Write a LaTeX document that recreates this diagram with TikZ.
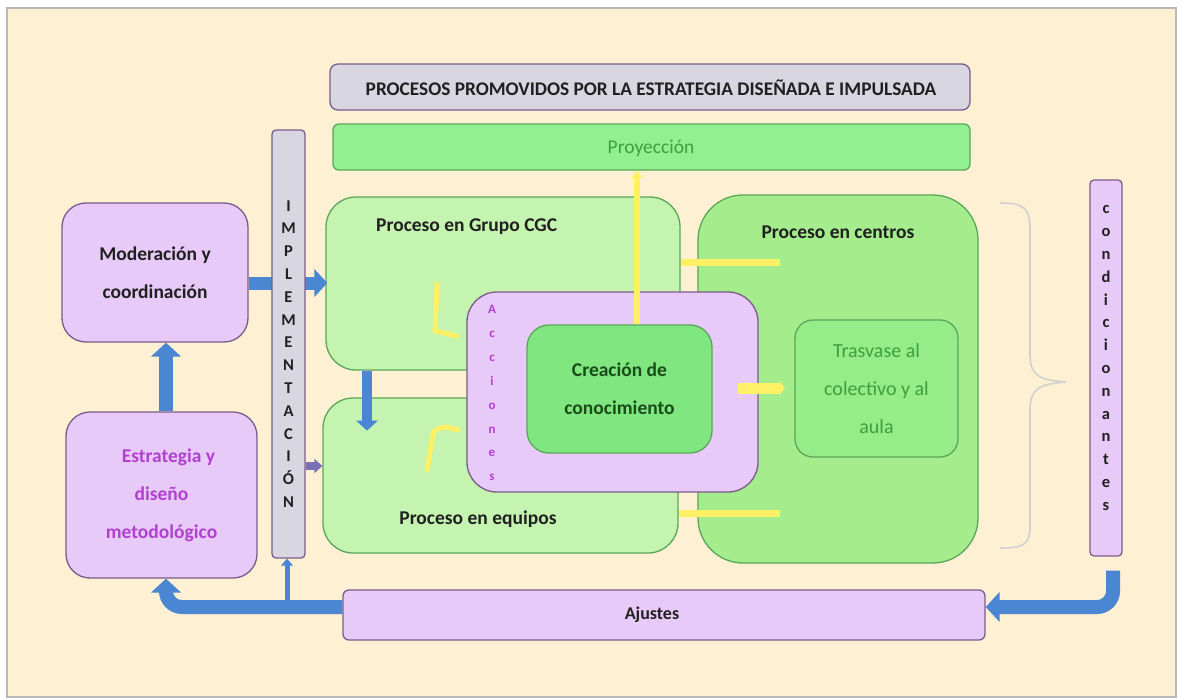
\documentclass[tikz,border=0pt]{standalone}
\usepackage{fontspec}
\setmainfont{Carlito}
\usetikzlibrary{arrows.meta}
\definecolor{cream}{HTML}{FEF0D2}
\definecolor{frameg}{HTML}{B8B8B8}
\definecolor{lav}{HTML}{E8CAF8}
\definecolor{lavb}{HTML}{7A5C8C}
\definecolor{titleg}{HTML}{D8D6E0}
\definecolor{proyg}{HTML}{92F090}
\definecolor{greenb}{HTML}{5AA65A}
\definecolor{grupog}{HTML}{C4F4B0}
\definecolor{centrog}{HTML}{A4EC8C}
\definecolor{creag}{HTML}{80E680}
\definecolor{trasg}{HTML}{96EC88}
\definecolor{bluea}{HTML}{4A86D2}
\definecolor{purpa}{HTML}{7A70B8}
\definecolor{yel}{HTML}{FFF066}
\definecolor{txtpurple}{HTML}{B040D0}
\definecolor{txtgreen}{HTML}{3CA03C}
\definecolor{txtdark}{HTML}{202020}
\tikzset{
  box/.style={draw=lavb, line width=1.3pt, fill=lav, inner sep=0pt},
  gbox/.style={draw=greenb, line width=1.3pt, inner sep=0pt},
  lbl/.style={font=\fontsize{19.5}{38}\selectfont\bfseries, text=txtdark, align=center, inner sep=0pt},
  vlet/.style={font=\fontsize{16.5}{22.8}\selectfont\bfseries, align=center, inner sep=0pt},
  bluearrow/.style={draw=bluea, line width=#1, -{Triangle[width=2.1*#1, length=1.0*#1]}},
  yline/.style={draw=yel, line width=7pt},
}
\begin{document}
\begin{tikzpicture}[x=1pt,y=-1pt]
\useasboundingbox (0,0) rectangle (1185,699);
\fill[white] (0,0) rectangle (1185,699);
\fill[cream, draw=frameg, line width=1.2pt] (7,8) rectangle (1176,697);

% Title and projection
\node[box, fill=titleg, rounded corners=8pt, minimum width=640pt, minimum height=46pt] (title) at (650,87) {};
\node[font=\fontsize{19.3}{22}\selectfont\bfseries, text=txtdark] (titletxt) at (651,88) {PROCESOS PROMOVIDOS POR LA ESTRATEGIA DISEÑADA E IMPULSADA};
\node[gbox, fill=proyg, rounded corners=6pt, minimum width=637pt, minimum height=46pt] (proy) at (651.5,147) {};
\node[font=\fontsize{19.5}{22}\selectfont, text=txtgreen] (proytxt) at (651,148) {Proyección};

% Left boxes
\node[box, rounded corners=24pt, minimum width=186pt, minimum height=139pt, lbl] (mod) at (155,272.5) {Moderación y\\coordinación};
\node[box, rounded corners=24pt, minimum width=191pt, minimum height=166pt, lbl, text=txtpurple] (estr) at (161.5,495) {\hspace*{14pt}Estrategia y\\diseño\\metodológico};

% Process boxes
\node[gbox, fill=grupog, rounded corners=30pt, minimum width=354pt, minimum height=173pt] (grupo) at (503,283.5) {};
\node[lbl, anchor=west] (grupotxt) at (376,227) {Proceso en Grupo CGC};
\node[gbox, fill=grupog, rounded corners=30pt, minimum width=355pt, minimum height=155pt] (equipos) at (500.5,475.5) {};
\node[lbl] (equipostxt) at (478,519) {Proceso en equipos};
\node[gbox, fill=centrog, rounded corners=45pt, minimum width=280pt, minimum height=368pt] (centros) at (838,379) {};
\node[lbl] (centrostxt) at (838,232) {Proceso en centros};

% Yellow connectors between Grupo / equipos and centros
\coordinate (y1) at (780,262);
\coordinate (y2) at (780,513);
\draw[yline] (grupo.east |- y1) -- (y1);
\draw[yline] (equipos.east |- y2) -- (y2);

% Acciones and creation
\node[box, rounded corners=30pt, minimum width=291pt, minimum height=200pt] (acc) at (612.5,392) {};
\node[vlet, text=txtpurple, font=\fontsize{13}{23.9}\selectfont\bfseries] (acctxt) at (492,393) {A\\c\\c\\i\\o\\n\\e\\s};
\node[gbox, fill=creag, rounded corners=22pt, minimum width=185pt, minimum height=128pt, lbl, text=txtdark!80!green] (crea) at (619.5,389) {Creación de\\conocimiento};
\node[gbox, fill=trasg, rounded corners=18pt, minimum width=163pt, minimum height=137pt, lbl, font=\fontsize{20}{38}\selectfont, text=txtgreen] (tras) at (876.5,388.5) {Trasvase al\\colectivo y al\\aula};

% Yellow arrows
\coordinate (yx) at (637,0);
\draw[draw=yel, line width=6pt, -{Triangle[width=11pt,length=7pt]}] (crea.north -| yx) -- (proy.south -| yx);
\coordinate (y3a) at (738,388);
\coordinate (y3b) at (785,388);
\draw[draw=yel, line width=11pt, -{Triangle[width=14pt,length=6pt]}] (y3a) -- (y3b);
\draw[draw=yel, line width=5pt, line cap=round, line join=round] (437,284) -- (435,331) -- (457,336);
\draw[draw=yel, line width=5pt, line cap=round, line join=round] (427,470) -- (433,434) .. controls (436,426) and (446,426) .. (458,430);

% Blue arrows
\coordinate (ma) at (0,283);
\draw[bluearrow=13pt] (mod.east |- ma) -- ([xshift=2pt]grupo.west |- ma);
\coordinate (ex) at (166,0);
\draw[bluearrow=14pt] (estr.north -| ex) -- (mod.south -| ex);
\coordinate (gx) at (367,0);
\draw[bluearrow=10pt] (grupo.south -| gx) -- ++(0,60);

% Implementation bar
\node[box, fill=titleg, rounded corners=4pt, minimum width=33pt, minimum height=428pt] (impl) at (288.5,344) {};
\node[vlet, text=txtdark] (impltxt) at (288.5,354) {I\\M\\P\\L\\E\\M\\E\\N\\T\\A\\C\\I\\Ó\\N};
\coordinate (pa) at (0,466);
\draw[draw=purpa, line width=8pt, -{Triangle[width=14pt,length=8pt]}] (impl.east |- pa) -- (equipos.west |- pa);

% Condicionantes
\node[box, rounded corners=4pt, minimum width=32pt, minimum height=376pt] (cond) at (1106,368) {};
\node[vlet, text=txtdark] (condtxt) at (1106,358) {c\\o\\n\\d\\i\\c\\i\\o\\n\\a\\n\\t\\e\\s};

% Brace
\draw[draw=black!18, line width=1.6pt] (1000,203) .. controls (1024,203) and (1030,208) .. (1030,230) -- (1030,355) .. controls (1030,376) and (1040,380) .. (1066,382) .. controls (1040,384) and (1030,388) .. (1030,410) -- (1030,525) .. controls (1030,545) and (1024,548) .. (1000,548);

% Ajustes
\node[box, rounded corners=6pt, minimum width=642pt, minimum height=50pt] (aj) at (664,615) {};
\node[lbl, font=\fontsize{18}{20}\selectfont\bfseries] (ajtxt) at (652,615) {Ajustes};

\coordinate (ab) at (0,607);
\coordinate (cx) at (1113,0);
\draw[bluearrow=14pt, rounded corners=16pt] (aj.west |- ab) -- (ex |- ab) -- (estr.south -| ex);
\coordinate (ix) at (287,0);
\draw[draw=bluea, line width=5pt, -{Triangle[width=12pt,length=7pt]}] (ix |- ab) -- (impl.south -| ix);
\draw[bluearrow=14pt, rounded corners=16pt] ([yshift=-14pt]cond.south -| cx) -- (cx |- ab) -- (aj.east |- ab);
\end{tikzpicture}
\end{document}
